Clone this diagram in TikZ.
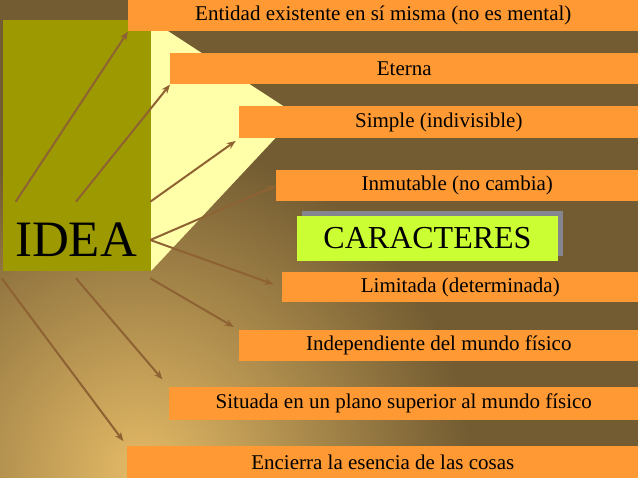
\documentclass[tikz,border=0pt]{standalone}
\usepackage{fontspec}
\setmainfont{Liberation Serif}
\usetikzlibrary{arrows.meta,shadows}
\definecolor{fondo}{HTML}{735C32}
\definecolor{dorado}{HTML}{E4BA66}
\definecolor{naranja}{HTML}{FF9933}
\definecolor{oliva}{HTML}{9C9A00}
\definecolor{crema}{HTML}{FFFFAA}
\definecolor{lima}{HTML}{CCFF33}
\definecolor{sombra}{HTML}{85858F}
\definecolor{flecha}{HTML}{8E6232}
\begin{document}
\begin{tikzpicture}[x=1pt, y=-1pt, semithick,
caja/.style={fill=naranja, anchor=north west, inner sep=0pt, font=\fontsize{21}{21}\selectfont},
flechas/.style={draw=flecha, line width=2pt, -{Stealth[length=9pt,width=7pt]}}]
\useasboundingbox (0,0) rectangle (638,478);
\fill[fondo] (0,0) rectangle (638,478);
\begin{scope}
\clip (0,0) rectangle (638,478);
\shade[inner color=dorado, outer color=fondo] (140,470) circle (330pt);
\end{scope}
\fill[oliva] (3,20) rectangle (151,271);
\fill[crema] (151,20) -- (297,115) -- (151,271) -- cycle;
\node[caja, minimum width=510pt, minimum height=31pt] (b1) at (128,0) {Entidad existente en sí misma (no es mental)};
\node[caja, minimum width=468pt, minimum height=31pt] (b2) at (170,53) {Eterna};
\node[caja, minimum width=399pt, minimum height=32pt] (b3) at (239,106) {Simple (indivisible)};
\node[caja, minimum width=362pt, minimum height=31pt] (b4) at (276,170) {Inmutable (no cambia)};
\node[fill=lima, minimum width=261pt, minimum height=45pt, inner sep=0pt,
    drop shadow={shadow xshift=5pt, shadow yshift=5pt, fill=sombra, opacity=1},
    font=\fontsize{32}{32}\selectfont] (car) at (427.5,238.5) {CARACTERES};
\node[caja, minimum width=356pt, minimum height=30pt] (b5) at (282,272) {Limitada (determinada)};
\node[caja, minimum width=399pt, minimum height=31pt] (b6) at (239,330) {Independiente del mundo físico};
\node[caja, minimum width=469pt, minimum height=33pt] (b7) at (169,387) {Situada en un plano superior al mundo físico};
\node[caja, minimum width=511pt, minimum height=32pt] (b8) at (127,446) {Encierra la esencia de las cosas};
\node[minimum width=148pt, minimum height=76pt, inner sep=0pt,
    font=\fontsize{51}{51}\selectfont] (idea) at (76,240) {IDEA};
\draw[flechas] ([xshift=14pt]idea.north west) -- (b1.south west);
\draw[flechas] (idea.north) -- (b2.south west);
\draw[flechas, shorten >=4pt] (idea.north east) -- (b3.south west);
\draw[flechas] (idea.east) -- (b4.west);
\draw[flechas, shorten >=9pt] (idea.east) -- (b5.west);
\draw[flechas, shorten >=6pt] (idea.south east) -- (b6.north west);
\draw[flechas, shorten >=10pt] (idea.south) -- (b7.north west);
\draw[flechas, shorten >=6pt] (idea.south west) -- (b8.north west);
\end{tikzpicture}
\end{document}
